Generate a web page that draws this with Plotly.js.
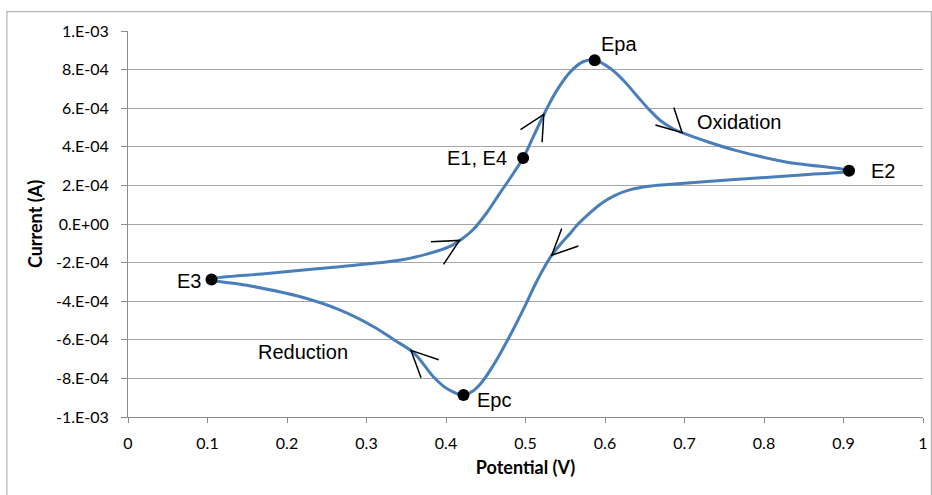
<!DOCTYPE html>
<html>
<head>
<meta charset="utf-8">
<script src="https://cdn.plot.ly/plotly-3.0.1.min.js"></script>
<style>
  html, body { margin: 0; padding: 0; background: #ffffff; }
  #chart { width: 932px; height: 495px; }
</style>
</head>
<body>
<div id="chart"></div>
<script>
// Cyclic voltammogram curve (Potential V, Current A), traced in order E1 -> Epa -> E2 -> Epc -> E3 -> E1
const potential = [
  0.497, 0.510, 0.525, 0.540, 0.557, 0.573, 0.587, 0.606, 0.623, 0.640, 0.655, 0.670, 0.685, 0.700, 0.730, 0.763, 0.826, 0.907,
  0.847, 0.763, 0.679, 0.655, 0.632, 0.612, 0.595, 0.579, 0.565, 0.557, 0.545, 0.532, 0.515, 0.499, 0.482, 0.461, 0.444, 0.433, 0.422,
  0.402, 0.385, 0.360, 0.335, 0.309, 0.267, 0.217, 0.154, 0.105,
  0.175, 0.259, 0.343, 0.377, 0.405, 0.420, 0.434, 0.451, 0.468, 0.485, 0.497
];
const current = [
  3.42e-4, 4.54e-4, 5.83e-4, 6.96e-4, 7.91e-4, 8.42e-4, 8.48e-4, 8.08e-4, 7.45e-4, 6.65e-4, 5.95e-4, 5.35e-4, 4.95e-4, 4.68e-4, 4.25e-4, 3.83e-4, 3.23e-4, 2.76e-4,
  2.54e-4, 2.30e-4, 2.05e-4, 1.96e-4, 1.78e-4, 1.47e-4, 1.05e-4, 0.50e-4, -0.05e-4, -0.45e-4, -1.00e-4, -1.68e-4, -2.90e-4, -4.28e-4, -5.66e-4, -7.22e-4, -8.25e-4, -8.68e-4, -8.86e-4,
  -8.55e-4, -7.95e-4, -6.70e-4, -6.01e-4, -5.32e-4, -4.46e-4, -3.77e-4, -3.21e-4, -2.87e-4,
  -2.56e-4, -2.24e-4, -1.87e-4, -1.55e-4, -1.16e-4, -0.78e-4, -0.30e-4, 0.57e-4, 1.61e-4, 2.64e-4, 3.42e-4
];

// Labelled points
const pointNames = ["Epa", "E1, E4", "E2", "E3", "Epc"];
const pointX = [0.587, 0.497, 0.907, 0.105, 0.422];
const pointY = [8.48e-4, 3.42e-4, 2.76e-4, -2.87e-4, -8.86e-4];

// Region labels
const regionNames = ["Oxidation", "Reduction"];
const regionX = [0.769, 0.220];
const regionY = [5.28e-4, -6.62e-4];

// Direction arrows (tip location on the curve)
const arrowX = [0.417, 0.523, 0.697, 0.533, 0.356];
const arrowY = [-0.85e-4, 5.68e-4, 4.73e-4, -1.62e-4, -6.55e-4];

// Axis ticks
const xTickVals = [0, 0.1, 0.2, 0.3, 0.4, 0.5, 0.6, 0.7, 0.8, 0.9, 1];
const xTickText = ["0", "0.1", "0.2", "0.3", "0.4", "0.5", "0.6", "0.7", "0.8", "0.9", "1"];
const yTickVals = [1e-3, 8e-4, 6e-4, 4e-4, 2e-4, 0, -2e-4, -4e-4, -6e-4, -8e-4, -1e-3];
const yTickText = ["1.E-03", "8.E-04", "6.E-04", "4.E-04", "2.E-04", "0.E+00", "-2.E-04", "-4.E-04", "-6.E-04", "-8.E-04", "-1.E-03"];

// arrow arm offsets in pixels (x right, y up), purely decorative geometry
const arrowArms = [
  [[-28.6, -1.3], [-16, -24]],
  [[-23.3, -15.3], [-1.7, -27.7]],
  [[-26.7, 7.7], [-8.3, 25.3]],
  [[26.7, 9.3], [10, 26.7]],
  [[27.7, -9.3], [10, -27.3]]
];
// label offsets (pixels)
const labelStyle = [
  {xanchor: "left", xshift: 4, yshift: 16},
  {xanchor: "right", xshift: -14, yshift: 0},
  {xanchor: "left", xshift: 20, yshift: 0},
  {xanchor: "right", xshift: -8, yshift: -2},
  {xanchor: "left", xshift: 12, yshift: -5}
];

const tickFont = {family: "Lato, 'Liberation Sans Narrow', sans-serif", size: 16, color: "#000"};
const titleFont = {family: "Lato, 'Liberation Sans Narrow', sans-serif", size: 18, color: "#000"};
const labelFont = {family: "'Liberation Sans', Arial, sans-serif", size: 20, color: "#000"};

const traces = [
  {
    x: potential, y: current, type: "scatter", mode: "lines",
    line: {color: "#4a7ebb", width: 3, shape: "spline", smoothing: 1.0},
    hoverinfo: "skip"
  },
  {
    x: pointX, y: pointY, type: "scatter", mode: "markers",
    marker: {color: "#000", size: 12},
    hoverinfo: "skip"
  }
];

const annotations = [];
pointNames.forEach((n, i) => {
  annotations.push(Object.assign({
    x: pointX[i], y: pointY[i], xref: "x", yref: "y", text: n, showarrow: false,
    font: labelFont, yanchor: "middle"
  }, labelStyle[i]));
});
regionNames.forEach((n, i) => {
  annotations.push({
    x: regionX[i], y: regionY[i], xref: "x", yref: "y", text: n, showarrow: false,
    font: labelFont, xanchor: "center", yanchor: "middle"
  });
});

const shapes = [];
arrowX.forEach((ax, i) => {
  const a = arrowArms[i];
  shapes.push({
    type: "path", xref: "x", yref: "y", xsizemode: "pixel", ysizemode: "pixel",
    xanchor: ax, yanchor: arrowY[i],
    path: `M ${a[0][0]},${a[0][1]} L 0,0 L ${a[1][0]},${a[1][1]}`,
    line: {color: "#000", width: 1.5}
  });
});
// outer chart-area border
shapes.push({
  type: "rect", xref: "paper", yref: "paper",
  x0: -0.1523, x1: 1.0105, y0: -0.25, y1: 1.05,
  line: {color: "#b4b4b4", width: 1.2}, fillcolor: "rgba(0,0,0,0)", layer: "below"
});

const layout = {
  width: 932, height: 495,
  margin: {l: 128, r: 9.3, t: 31.3, b: 77.7, pad: 0},
  paper_bgcolor: "#ffffff", plot_bgcolor: "#ffffff",
  showlegend: false,
  xaxis: {
    range: [0, 1], tickvals: xTickVals, ticktext: xTickText,
    showgrid: false, zeroline: false,
    showline: true, linecolor: "#8c8c8c", linewidth: 1,
    ticks: "outside", ticklen: 5, tickcolor: "#8c8c8c",
    ticklabelstandoff: 7,
    tickfont: tickFont,
    title: {text: "<b>Potential (V)</b>", font: titleFont, standoff: 10}
  },
  yaxis: {
    range: [-1e-3, 1e-3], tickvals: yTickVals, ticktext: yTickText,
    showgrid: true, gridcolor: "#a6a6a6", gridwidth: 1,
    zeroline: false,
    showline: true, linecolor: "#8c8c8c", linewidth: 1,
    ticks: "outside", ticklen: 6, tickcolor: "#8c8c8c",
    ticklabelstandoff: 9,
    tickfont: tickFont,
    title: {text: "<b>Current (A)</b>", font: titleFont, standoff: 8}
  },
  annotations: annotations,
  shapes: shapes
};

Plotly.newPlot("chart", traces, layout, {displayModeBar: false, staticPlot: true});
</script>
</body>
</html>
